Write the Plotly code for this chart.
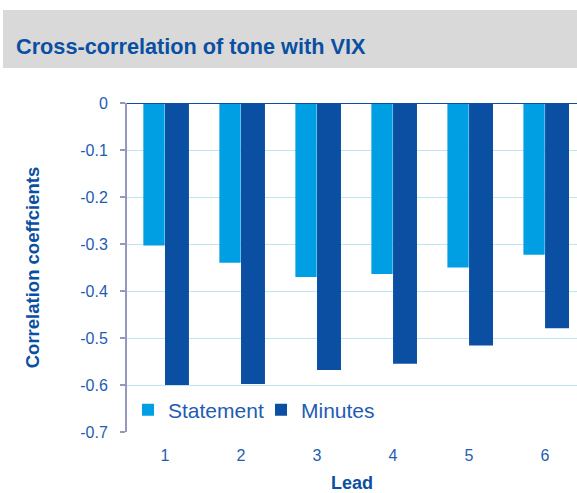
import plotly.graph_objects as go

leads = [1, 2, 3, 4, 5, 6]
statement = [-0.303, -0.340, -0.370, -0.364, -0.350, -0.323]
minutes = [-0.600, -0.598, -0.568, -0.555, -0.516, -0.479]
y_ticks = [0, -0.1, -0.2, -0.3, -0.4, -0.5, -0.6, -0.7]
y_tick_text = ["0", "-0.1", "-0.2", "-0.3", "-0.4", "-0.5", "-0.6", "-0.7"]

LIGHT = "#009fe3"
DARK = "#0a4fa2"
TEXT = "#1e5cb3"
FONT = "Liberation Sans, Arial, sans-serif"

W, H = 577, 493
L, R, T, B = 127, 0, 103, 61
PW, PH = W - L - R, H - T - B


def py(pix):  # pixel row -> paper y
    return (H - B - pix) / PH


def px(pix):  # pixel column -> paper x
    return (pix - L) / PW


fig = go.Figure()
fig.add_trace(go.Bar(x=leads, y=statement, name="Statement", marker_color=LIGHT,
                     marker_line_width=0, offset=-0.285, width=0.28))
fig.add_trace(go.Bar(x=leads, y=minutes, name="Minutes", marker_color=DARK,
                     marker_line_width=0, offset=0.0, width=0.315))

fig.update_layout(
    width=W, height=H,
    margin=dict(l=L, r=R, t=T, b=B, autoexpand=False),
    paper_bgcolor="white", plot_bgcolor="white",
    barmode="overlay",
    font=dict(family=FONT, color=TEXT, size=16),
    showlegend=True,
    legend=dict(orientation="h", x=px(128), xanchor="left", y=py(410), yanchor="middle",
                font=dict(size=21, color=TEXT), bgcolor="rgba(0,0,0,0)",
                entrywidth=88, entrywidthmode="pixels", itemclick=False),
    xaxis=dict(range=[0.5, 6.42], tickvals=leads, ticktext=[str(v) for v in leads],
               showgrid=False, zeroline=False, showline=False, ticks="",
               ticklabelstandoff=12, tickfont=dict(size=16, color=TEXT),
               title=dict(text="<b>Lead</b>", font=dict(size=18, color=DARK), standoff=16)),
    yaxis=dict(range=[-0.7, 0], tickvals=y_ticks, ticktext=y_tick_text,
               showgrid=True, gridcolor="#bde5f6", gridwidth=1, zeroline=False,
               showline=True, linecolor="#9696bf", linewidth=2,
               ticks="outside", ticklen=5, tickcolor="#9696bf", tickwidth=2,
               ticklabelstandoff=9, tickfont=dict(size=16, color=TEXT),
               title=dict(text="<b>Correlation coeffcients</b>", font=dict(size=18.5, color=DARK),
                          standoff=36)),
    shapes=[
        dict(type="rect", xref="paper", yref="paper", x0=px(3), x1=1.0,
             y0=py(10), y1=py(68),
             fillcolor="#d9d9d9", line_width=0, layer="below"),
        dict(type="line", xref="paper", yref="y", x0=0, x1=1, y0=0, y1=0,
             line=dict(color=DARK, width=2), layer="above"),
    ],
    annotations=[
        dict(text="<b>Cross-correlation of tone with VIX</b>", xref="paper", yref="paper",
             x=px(14), y=py(47), xanchor="left", yanchor="middle", showarrow=False,
             font=dict(size=21.7, color=DARK, family=FONT)),
    ],
)

fig.write_html("out.html", config={"displayModeBar": False},
               post_script="document.body.style.margin='0';")
